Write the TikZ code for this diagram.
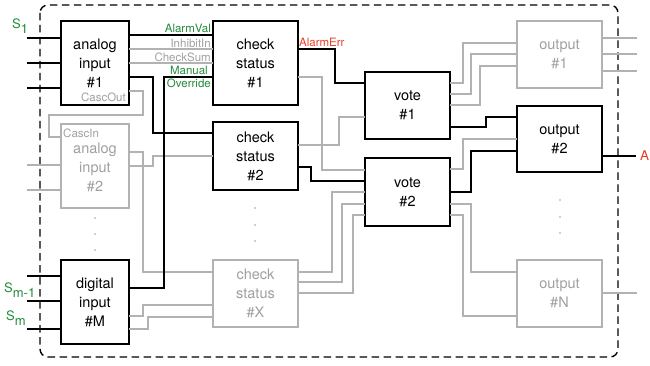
\documentclass[tikz,border=0pt]{standalone}
\usepackage{fontspec}
\setmainfont{TeX Gyre Heros}
\definecolor{lgray}{RGB}{178,178,178}
\definecolor{gtext}{RGB}{160,160,160}
\definecolor{lgreen}{RGB}{34,139,58}
\definecolor{lred}{RGB}{232,62,40}
\begin{document}
\begin{tikzpicture}[x=1pt,y=-1pt,
  blk/.style={line width=1.4pt, draw=black},
  gry/.style={line width=1.4pt, draw=lgray},
  bbox/.style={draw=black, line width=1.4pt, fill=white, inner sep=0pt, outer sep=0pt, align=center, font=\fontsize{14.5}{19}\selectfont},
  gbox/.style={bbox, draw=lgray, text=gtext},
  plab/.style={font=\fontsize{11.5}{12}\selectfont, inner sep=0pt},
  slab/.style={font=\fontsize{13}{14}\selectfont, inner sep=0pt, text=lgreen},
  dotp/.style={fill=gtext, draw=none},
]
\useasboundingbox (0,0) rectangle (650,366);
% frame
\draw[line width=1.4pt, dash pattern=on 7.5pt off 4.5pt, rounded corners=8pt] (40,5) rectangle (618,357);

% boxes
\node[bbox, minimum width=68, minimum height=84] (ai1) at (95,63) {analog\\input\\\#1};
\node[gbox, minimum width=68, minimum height=84] (ai2) at (95,166) {\\[-6pt]analog\\input\\\#2};
\node[bbox, minimum width=68, minimum height=84] (dig) at (95,302) {digital\\input\\\#M};
\node[bbox, minimum width=85, minimum height=84] (cs1) at (255.5,63) {check\\status\\\#1};
\node[bbox, minimum width=85, minimum height=68] (cs2) at (255.5,156) {check\\status\\\#2};
\node[gbox, minimum width=85, minimum height=67] (csx) at (255.5,293.5) {check\\status\\\#X};
\node[bbox, minimum width=85, minimum height=67] (v1) at (407.5,105.5) {vote\\\#1};
\node[bbox, minimum width=85, minimum height=68] (v2) at (407.5,192) {vote\\\#2};
\node[gbox, minimum width=85, minimum height=67] (o1) at (559.5,54.5) {output\\\#1};
\node[bbox, minimum width=85, minimum height=66] (o2) at (559.5,139) {output\\\#2};
\node[gbox, minimum width=85, minimum height=67] (oN) at (559.5,293.5) {output\\\#N};

% free ends
\coordinate (i1) at (27,38);
\coordinate (i2) at (27,63);
\coordinate (i3) at (27,88);
\coordinate (i4) at (27,165);
\coordinate (i5) at (27,190);
\coordinate (i6) at (27,276);
\coordinate (i7) at (27,301);
\coordinate (i8) at (27,329);
\coordinate (e1) at (637,38);
\coordinate (e2) at (637,54);
\coordinate (e3) at (637,71);
\coordinate (e4) at (636,156);
\coordinate (e5) at (637,293);

% gray connectors
\draw[gry] (i4) -- (ai2.west|-i4);
\draw[gry] (i5) -- (ai2.west|-i5);
\draw[gry] (ai1.east|-0,49) -- (cs1.west|-0,49);
\draw[gry] (ai1.east|-0,63) -- (cs1.west|-0,63);
\draw[gry] (ai1.east|-0,91) -- (143,91) -- (143,115) -- (49,115) |- (ai2.west|-0,137);
\draw[gry] (ai2.east|-0,152) -| (143,272) -- (csx.west|-0,272);
\draw[gry] (ai2.east|-0,166) -| (153,156) -- (cs2.west|-0,156);
\draw[gry] (dig.east|-0,316) -| (143,305) -- (csx.west|-0,305);
\draw[gry] (dig.east|-0,329) -| (148,317) -- (csx.west|-0,317);
\draw[gry] (cs1.east|-0,77) -| (322,170) -- (v2.west|-0,170);
\draw[gry] (cs2.east|-0,145) -| (339,117) -- (v1.west|-0,117);
\draw[gry] (csx.east|-0,272) -| (332,192) -- (v2.west|-0,192);
\draw[gry] (csx.east|-0,282) -| (342,204) -- (v2.west|-0,204);
\draw[gry] (csx.east|-0,293) -| (353,215) -- (v2.west|-0,215);
\draw[gry] (v1.east|-0,83) -| (463,43) -- (o1.west|-0,43);
\draw[gry] (v1.east|-0,94) -| (471,54) -- (o1.west|-0,54);
\draw[gry] (v1.east|-0,105) -| (480,66) -- (o1.west|-0,66);
\draw[gry] (v2.east|-0,169) -| (463,139) -- (o2.west|-0,139);
\draw[gry] (v2.east|-0,204) -| (471,272) -- (oN.west|-0,272);
\draw[gry] (v2.east|-0,215) -| (463,316) -- (oN.west|-0,316);
\draw[gry] (o1.east|-e1) -- (e1);
\draw[gry] (o1.east|-e2) -- (e2);
\draw[gry] (o1.east|-e3) -- (e3);
\draw[gry] (oN.east|-e5) -- (e5);

% black connectors
\draw[blk] (i1) -- (ai1.west|-i1);
\draw[blk] (i2) -- (ai1.west|-i2);
\draw[blk] (i3) -- (ai1.west|-i3);
\draw[blk] (i6) -- (dig.west|-i6);
\draw[blk] (i7) -- (dig.west|-i7);
\draw[blk] (i8) -- (dig.west|-i8);
\draw[blk] (ai1.east|-0,35) -- (cs1.west|-0,35);
\draw[blk] (ai1.east|-0,77) -| (153,133) -- (cs2.west|-0,133);
\draw[blk] (dig.east|-0,288) -| (164,77) -- (cs1.west|-0,77);
\draw[blk] (cs1.east|-0,49) -| (335,83) -- (v1.west|-0,83);
\draw[blk] (cs2.east|-0,167) -| (311,181) -- (v2.west|-0,181);
\draw[blk] (v1.east|-0,127) -| (486,117) -- (o2.west|-0,117);
\draw[blk] (v2.east|-0,192) -| (471,151) -- (o2.west|-0,151);
\draw[blk] (o2.east|-e4) -- (e4);

% port labels
\node[plab, text=lgreen, anchor=east] (lav) at (211,28) {AlarmVal};
\node[plab, text=gtext, anchor=east] (lin) at (211,43) {InhibitIn};
\node[plab, text=gtext, anchor=east] (lcs) at (211,57) {CheckSum};
\node[plab, text=lgreen, anchor=east] (lma) at (208,70) {Manual};
\node[plab, text=lgreen, anchor=east] (lov) at (211,83) {Override};
\node[plab, text=lred, anchor=west] (lae) at (299,42) {AlarmErr};
\node[plab, text=gtext, anchor=east] (lco) at (126,97) {CascOut};
\node[plab, text=gtext, anchor=west] (lci) at (63,133) {CascIn};
\node[font=\fontsize{13.5}{15}\selectfont, inner sep=0pt, text=lred, anchor=west] (la) at (640,156) {A};

% signal labels
\node[slab, anchor=west] (s1) at (12,26) {S\raisebox{-4.5pt}{1}};
\node[slab, anchor=west] (sm1) at (4,290) {S\raisebox{-4.5pt}{m-1}};
\node[slab, anchor=west] (sm) at (6,318) {S\raisebox{-4.5pt}{m}};

% dots
\foreach \y [count=\i] in {218,234,250} \fill[dotp] (95,\y) circle (0.8pt);
\foreach \y [count=\i] in {208,225,241} \fill[dotp] (255,\y) circle (0.8pt);
\foreach \y [count=\i] in {200,217,233} \fill[dotp] (560,\y) circle (0.8pt);
\end{tikzpicture}
\end{document}
